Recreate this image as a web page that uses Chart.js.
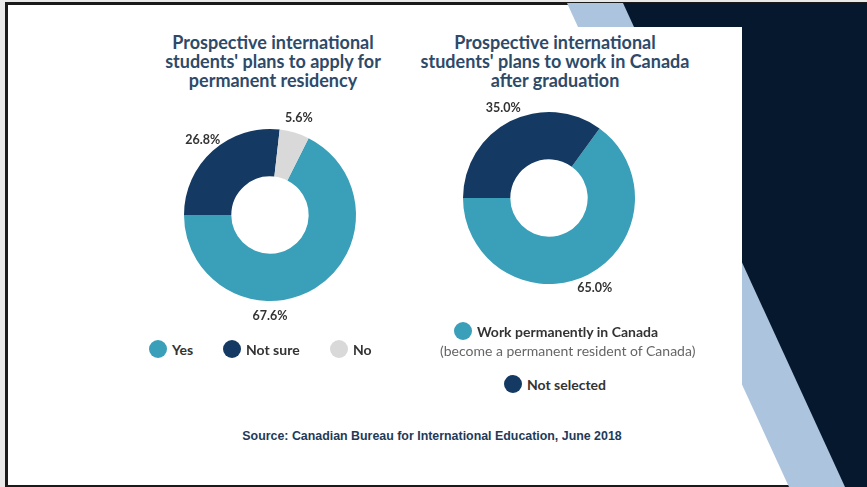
<!DOCTYPE html>
<html>
<head>
<meta charset="utf-8">
<script src="https://cdn.jsdelivr.net/npm/chart.js@4.4.1/dist/chart.umd.min.js"></script>
<style>
  html, body { margin: 0; padding: 0; background: #e9e9e9; }
  #slide {
    position: relative; width: 867px; height: 487px; overflow: hidden;
    font-family: 'Lato', 'Open Sans', sans-serif;
  }
  #frame {
    position: absolute; left: 5px; top: 2px; width: 870px; height: 485px;
    background: #fff; border: 3px solid #1a1a1a; border-bottom-width: 2px; box-sizing: border-box;
  }
  .band { position: absolute; left: 0; top: 0; width: 867px; height: 487px; }
  #lightBand { background: #adc4de; clip-path: polygon(567px 3px, 900px 3px, 900px 487px, 789px 487px); }
  #darkBand { background: #06182d; clip-path: polygon(623px 3px, 900px 3px, 900px 487px, 845px 487px); }
  #panel { position: absolute; left: 8px; top: 27px; width: 734px; height: 458px; background: #fff; }
  .title {
    position: absolute; text-align: center; font-weight: 700; font-size: 18px;
    line-height: 19px; color: #2e4a69; white-space: nowrap;
  }
  canvas { position: absolute; }
  .legend { position: absolute; font-weight: 700; font-size: 14px; color: #333; white-space: nowrap; }
  .legend .item { position: absolute; display: flex; align-items: center; }
  .legend .dot { width: 18px; height: 18px; border-radius: 50%; margin-right: 5px; flex: none; }
  .legend .note { position: absolute; font-weight: 400; color: #666; }
  #source {
    position: absolute; left: 0; width: 864px; top: 429px; text-align: center;
    font-family: 'Liberation Sans', Arial, sans-serif; font-weight: 700; font-size: 12.4px; color: #1f3a58;
  }
</style>
</head>
<body>
<div id="slide">
  <div id="frame"></div>
  <div class="band" id="lightBand"></div>
  <div class="band" id="darkBand"></div>
  <div id="panel"></div>

  <div class="title" style="left:123px; width:300px; top:33px;">Prospective international<br>students' plans to apply for<br>permanent residency</div>
  <div class="title" style="left:405px; width:300px; top:33px;">Prospective international<br>students' plans to work in Canada<br>after graduation</div>

  <canvas id="residencyChart" width="240" height="240" style="left:150px; top:95px;"></canvas>
  <canvas id="workChart" width="240" height="240" style="left:429px; top:78px;"></canvas>

  <div class="legend" id="residencyLegend"></div>
  <div class="legend" id="workLegend"></div>

  <div id="source">Source: Canadian Bureau for International Education, June 2018</div>
</div>

<script>
// Plans to apply for permanent residency (%)
const residencyLabels = ['Yes', 'Not sure', 'No'];
const residencyValues = [67.6, 26.8, 5.6];

// Plans to work in Canada after graduation (%)
const workLabels = ['Work permanently in Canada', 'Not selected'];
const workNotes = ['(become a permanent resident of Canada)', ''];
const workValues = [65.0, 35.0];

const residencyColors = ['#3a9fb8', '#143a64', '#d9d9d9'];
const workColors = ['#3a9fb8', '#143a64'];

// Percent labels just outside each slice
const valueLabels = {
    id: 'valueLabels',
    afterDatasetsDraw(chart, args, opts) {
        const ctx = chart.ctx;
        const meta = chart.getDatasetMeta(0);
        const values = chart.data.datasets[0].data;
        const overrides = opts.angles || {};
        ctx.save();
        ctx.font = "700 12.5px 'Lato', sans-serif";
        ctx.fillStyle = '#333';
        ctx.textAlign = 'center';
        ctx.textBaseline = 'middle';
        meta.data.forEach((arc, i) => {
            const p = arc.getProps(['x', 'y', 'startAngle', 'endAngle', 'outerRadius'], true);
            let angle = (p.startAngle + p.endAngle) / 2;
            if (overrides[i] !== undefined) angle = overrides[i] * Math.PI / 180;
            const r = p.outerRadius + (opts.offset || 14);
            ctx.fillText(values[i].toFixed(1) + '%', p.x + Math.cos(angle) * r, p.y + Math.sin(angle) * r);
        });
        ctx.restore();
    }
};

// Rotate so the first slice ends at nine o'clock
function startRotation(values) {
    const total = values.reduce((a, b) => a + b, 0);
    return 270 - 360 * values[0] / total;
}

function createDonut(canvasId, labels, values, colors, angles) {
    return new Chart(document.getElementById(canvasId).getContext('2d'), {
        type: 'doughnut',
        data: {
            labels: labels,
            datasets: [{
                data: values,
                backgroundColor: colors,
                borderWidth: 0,
                hoverOffset: 0
            }]
        },
        options: {
            responsive: false,
            animation: false,
            cutout: '45%',
            rotation: startRotation(values),
            layout: { padding: 34 },
            plugins: {
                legend: { display: false },
                tooltip: { enabled: false },
                valueLabels: { offset: 15, angles: angles }
            }
        },
        plugins: [valueLabels]
    });
}

const residencyChart = createDonut('residencyChart', residencyLabels, residencyValues, residencyColors, { 0: 90 });
const workChart = createDonut('workChart', workLabels, workValues, workColors, {});

function legendItem(parent, text, color, left, top) {
    const item = document.createElement('div');
    item.className = 'item';
    item.style.left = left + 'px';
    item.style.top = top + 'px';
    item.innerHTML = '<span class="dot" style="background:' + color + '"></span><span>' + text + '</span>';
    parent.appendChild(item);
    return item;
}

// Horizontal legend under the first donut
const resLegend = document.getElementById('residencyLegend');
resLegend.style.left = '149px';
resLegend.style.top = '340px';
let x = 0;
residencyChart.data.labels.forEach((label, i) => {
    const item = legendItem(resLegend, label, residencyColors[i], x, 0);
    x += item.offsetWidth + 30;
});

// Stacked legend under the second donut
const workLegend = document.getElementById('workLegend');
workLegend.style.left = '0px';
workLegend.style.top = '0px';
legendItem(workLegend, workChart.data.labels[0], workColors[0], 454, 322);
const note = document.createElement('div');
note.className = 'note';
note.textContent = workNotes[0];
note.style.left = '440px';
note.style.top = '342px';
workLegend.appendChild(note);
legendItem(workLegend, workChart.data.labels[1], workColors[1], 504, 375);
</script>
</body>
</html>
